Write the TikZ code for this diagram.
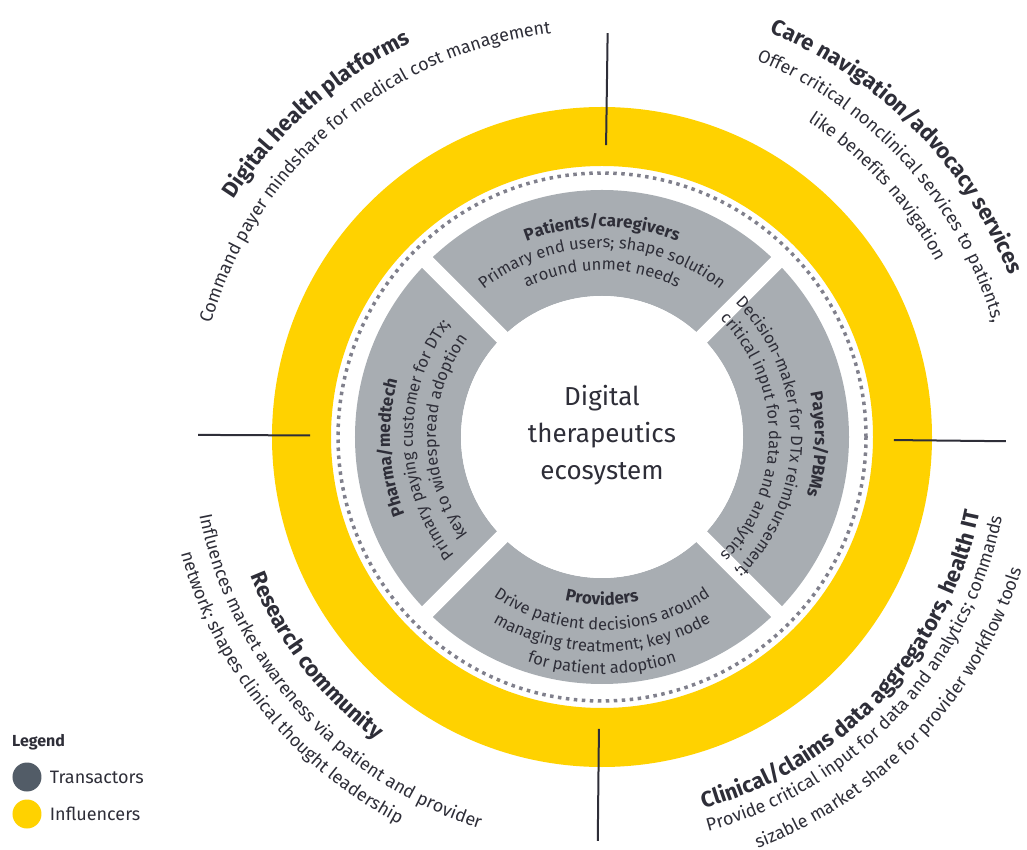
\documentclass[tikz,border=0pt]{standalone}
\usepackage{fontspec}
\setmainfont{Fira Sans}
\usetikzlibrary{positioning,decorations.text}

\definecolor{ink}{HTML}{2E2E38}
\definecolor{ringyellow}{HTML}{FFD200}
\definecolor{seggray}{HTML}{A8ADB2}
\definecolor{dotgray}{HTML}{80808C}
\definecolor{darkdot}{HTML}{525C67}

\newcommand\segtitle{\fontsize{17}{20}\selectfont\bfseries\color{ink}}
\newcommand\segtext{\fontsize{16.5}{20}\selectfont\color{ink}}
\newcommand\outtitle{\fontsize{22}{26}\selectfont\bfseries\color{ink}}
\newcommand\outtext{\fontsize{18}{21}\selectfont\color{ink}}

% text on an arc round the centre: radius, mid angle, half span (<0: letters face inwards), format, text
\newcommand\arcline[5]{%
  \path[decorate,decoration={text along path,text align=center,text={|#4|#5}}]
    ({#2+(#3)}:#1) arc[start angle={#2+(#3)},end angle={#2-(#3)},radius=#1];}

\begin{document}
\begin{tikzpicture}[
    ring/.style = {fill=ringyellow, even odd rule},
    tick/.style = {draw=ink, line width=2pt},
    dot/.style = {circle, minimum size=29pt, inner sep=0pt},
    key/.style = {font=\fontsize{18}{20}\selectfont, text=ink, inner sep=0pt}]
  \useasboundingbox (-602pt,-413pt) rectangle (425pt,437pt);
  % influencers ring
  \fill[ring] (0,0) circle (330pt) (0,0) circle (271pt);
  \foreach \a [count=\i] in {89.2,179.7,-0.6,269.4} {
    \coordinate (in\i) at (\a:292pt);
    \coordinate (out\i) at (\a:404pt);
    \draw[tick] (in\i) -- (out\i);
  }
  \draw[dotgray, line width=3.5pt, dash pattern=on 3.5pt off 4.5pt] (0,0) circle (264pt);
  % transactors
  \fill[seggray, even odd rule] (0,0) circle (247pt) (0,0) circle (141pt);
  \foreach \a in {45,135,225,315}
    \draw[white, line width=15pt] (0,0) -- (\a:252pt);
  \fill[white] (0,0) circle (141pt);
  \node[font=\fontsize{26}{37}\selectfont, text=ink, align=center] (eco) at (0,2pt) {Digital\\therapeutics\\ecosystem};

  \arcline{210pt}{90}{70}{\segtitle}{Patients/caregivers}
  \arcline{189pt}{90}{70}{\segtext}{Primary end users; shape solution}
  \arcline{167pt}{90}{70}{\segtext}{around unmet needs}

  \arcline{213pt}{-2}{70}{\segtitle}{Payers/PBMs}
  \arcline{189pt}{0}{70}{\segtext}{Decision-maker for DTx reimbursement;}
  \arcline{167pt}{0}{70}{\segtext}{critical input for data and analytics}

  \arcline{212pt}{183}{70}{\segtitle}{Pharma/medtech}
  \arcline{189pt}{181}{70}{\segtext}{Primary paying customer for DTx;}
  \arcline{166pt}{180}{70}{\segtext}{key to widespread adoption}

  \arcline{168pt}{270}{-70}{\segtitle}{Providers}
  \arcline{193pt}{270}{-70}{\segtext}{Drive patient decisions around}
  \arcline{215pt}{270}{-70}{\segtext}{managing treatment; key node}
  \arcline{237pt}{270}{-70}{\segtext}{for patient adoption}

  % outer labels
  \arcline{438pt}{131.5}{60}{\outtitle}{Digital health platforms}
  \arcline{407pt}{130.5}{60}{\outtext}{Command payer mindshare for medical cost management}
  \arcline{438pt}{44.6}{60}{\outtitle}{Care navigation/advocacy services}
  \arcline{407pt}{42}{60}{\outtext}{Offer critical nonclinical services to patients,}
  \arcline{377pt}{42.3}{60}{\outtext}{like benefits navigation}
  \arcline{378pt}{217.4}{-60}{\outtitle}{Research community}
  \arcline{410pt}{221.8}{-60}{\outtext}{Influences market awareness via patient and provider}
  \arcline{437pt}{218.9}{-60}{\outtext}{network; shapes clinical thought leadership}
  \arcline{385pt}{317}{-60}{\outtitle}{Clinical/claims data aggregators, health IT}
  \arcline{408pt}{316.9}{-60}{\outtext}{Provide critical input for data and analytics; commands}
  \arcline{440pt}{316.6}{-60}{\outtext}{sizable market share for provider workflow tools}

  % legend
  \node[font=\fontsize{16}{18}\selectfont\bfseries, text=ink, anchor=west, inner sep=0pt] (legend) at (-590pt,-305pt) {Legend};
  \node[dot, fill=darkdot] (trans) at (-575pt,-340pt) {};
  \node[key, right=8pt of trans] (translabel) {Transactors};
  \node[dot, fill=ringyellow] (infl) at (-575pt,-377pt) {};
  \node[key, right=8pt of infl] (infllabel) {Influencers};
\end{tikzpicture}
\end{document}
